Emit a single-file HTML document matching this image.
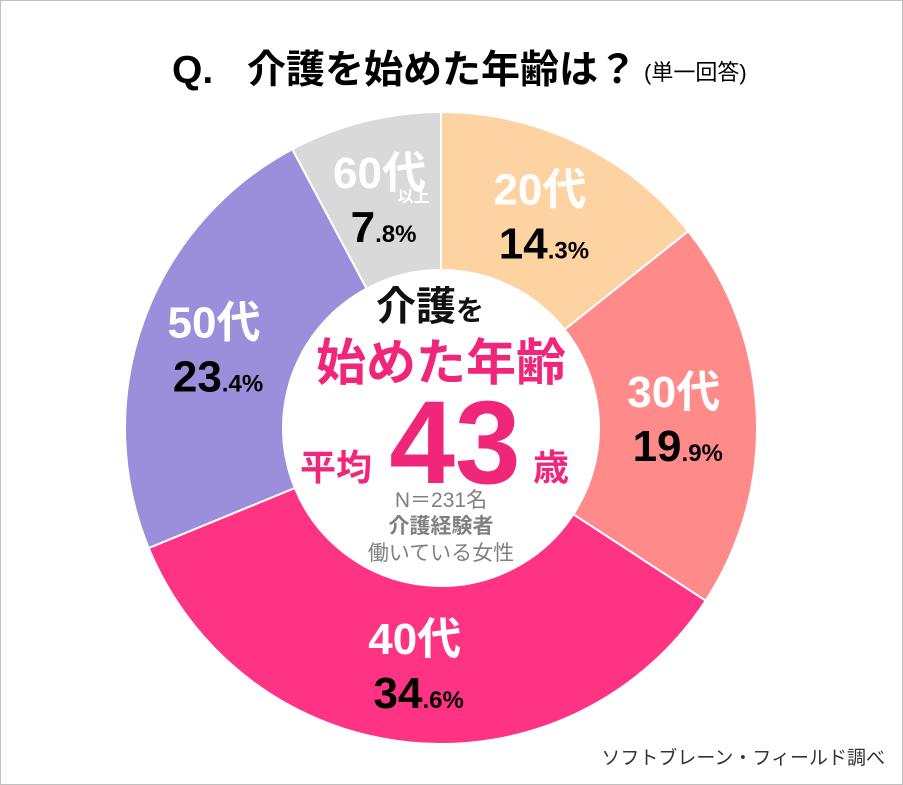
<!DOCTYPE html>
<html><head><meta charset="utf-8">
<style>
html,body{margin:0;padding:0;background:#fff;}
svg{display:block;font-family:"Liberation Sans","Noto Sans CJK JP",sans-serif;}
</style></head>
<body>
<svg id="chart" width="903" height="785" viewBox="0 0 903 785">
  <rect x="0.5" y="0.5" width="902" height="784" fill="#fff" stroke="#bfbfbf"/>
  <g>
    <text x="172" y="83" font-size="39" font-weight="bold" fill="#000">Q.</text>
    <text x="247" y="83" font-size="39" font-weight="bold" fill="#000">介護を始めた年齢は？</text>
    <text x="644" y="80" font-size="22" fill="#000">(単一回答)</text>
  </g>
  <g id="slices"></g>
  <g id="labels"></g>
  <g text-anchor="middle" font-weight="bold">
    <text x="430" y="320" font-size="40" fill="#111">介護<tspan font-size="28">を</tspan></text>
    <text x="441" y="380" font-size="50" fill="#f0267a">始めた年齢</text>
    <text x="336" y="480" font-size="36" fill="#f0267a">平均</text>
    <text x="455" y="483" font-size="118" fill="#f0267a">43</text>
    <text x="551" y="480" font-size="36" fill="#f0267a">歳</text>
    <text x="441" y="507" font-size="21" font-weight="normal" fill="#808080">N＝231名</text>
    <text x="441" y="533" font-size="21" fill="#808080">介護経験者</text>
    <text x="441" y="560" font-size="21" font-weight="normal" fill="#808080">働いている女性</text>
  </g>
  <text x="885" y="764" font-size="19" fill="#333" text-anchor="end">ソフトブレーン・フィールド調べ</text>
</svg>
<script>
const categories = ["20代","30代","40代","50代","60代"];
const values = [14.3, 19.9, 34.6, 23.4, 7.8];
const colors = ["#fdd3a2","#ff8a8a","#ff3384","#9b8fdc","#d9d9d9"];
const labelColors = ["#fff","#fff","#fff","#fff","#fff"];

const cx = 441, cy = 428, R = 316, r = 158, LR = 237;
const NS = "http://www.w3.org/2000/svg";
const total = values.reduce((a,b)=>a+b,0);
function pt(rad, a){ return [cx + rad*Math.sin(a), cy - rad*Math.cos(a)]; }
const sg = document.getElementById('slices');
const lg = document.getElementById('labels');
let acc = 0;
values.forEach((v,i)=>{
  const a0 = acc/total*2*Math.PI, a1 = (acc+v)/total*2*Math.PI;
  acc += v;
  const large = (a1-a0) > Math.PI ? 1 : 0;
  const [x0,y0]=pt(R,a0),[x1,y1]=pt(R,a1),[x2,y2]=pt(r,a1),[x3,y3]=pt(r,a0);
  const p = document.createElementNS(NS,'path');
  p.setAttribute('d',`M${x0},${y0} A${R},${R} 0 ${large} 1 ${x1},${y1} L${x2},${y2} A${r},${r} 0 ${large} 0 ${x3},${y3} Z`);
  p.setAttribute('fill',colors[i]);
  p.setAttribute('stroke','#fff');
  p.setAttribute('stroke-width','2');
  
  
  sg.appendChild(p);

  const [lx,ly] = pt(LR,(a0+a1)/2);
  const t1 = document.createElementNS(NS,'text');
  t1.setAttribute('x',lx-4); t1.setAttribute('y',ly-10);
  t1.setAttribute('text-anchor','middle'); t1.setAttribute('font-size','44');
  t1.setAttribute('font-weight','bold'); t1.setAttribute('fill',labelColors[i]);
  t1.textContent = categories[i];
  
  
  lg.appendChild(t1);
  if(categories[i]==="60代"){
    const s = document.createElementNS(NS,'text');
    s.setAttribute('x',lx+30); s.setAttribute('y',ly+4);
    s.setAttribute('text-anchor','middle'); s.setAttribute('font-size','16');
    s.setAttribute('font-weight','bold'); s.setAttribute('fill','#fff');
    s.textContent='以上';
    
    
    lg.appendChild(s);
  }
  const parts = v.toFixed(1).split('.');
  const t2 = document.createElementNS(NS,'text');
  t2.setAttribute('x',lx); t2.setAttribute('y',ly+44);
  t2.setAttribute('text-anchor','middle'); t2.setAttribute('font-weight','bold');
  t2.setAttribute('fill','#000');
  t2.innerHTML = `<tspan font-size="44">${parts[0]}</tspan><tspan font-size="24">.${parts[1]}%</tspan>`;
  
  
  lg.appendChild(t2);
});
</script>
</body></html>
